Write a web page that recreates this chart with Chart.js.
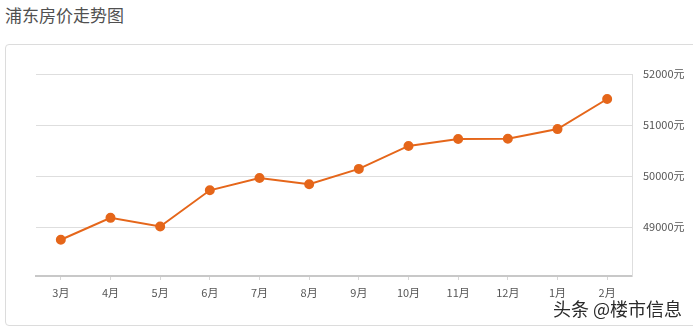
<!DOCTYPE html>
<html>
<head>
    <title>浦东房价走势图</title>
    <script src="https://cdn.jsdelivr.net/npm/chart.js@4.4.0/dist/chart.umd.min.js"></script>
    <style>
        body {
            margin: 0;
            width: 693px;
            height: 329px;
            overflow: hidden;
            background: #fff;
            font-family: "Noto Sans CJK SC", "Noto Sans", sans-serif;
            position: relative;
        }
        #title {
            position: absolute;
            left: 5px;
            top: 2px;
            font-size: 17px;
            color: #505050;
        }
        #box {
            position: absolute;
            left: 5px;
            top: 44px;
            width: 692px;
            height: 280px;
            border: 1px solid #dcdcdc;
            border-radius: 4px;
        }
        #chart {
            position: absolute;
            left: 0;
            top: 0;
        }
        #mark {
            position: absolute;
            left: 553px;
            top: 295px;
            font-size: 18px;
            color: #2a2a2a;
            text-shadow: 0 0 2px #fff;
        }
    </style>
</head>
<body>
    <div id="title">浦东房价走势图</div>
    <div id="box"></div>
    <canvas id="chart" width="693" height="329"></canvas>
    <div id="mark">头条 @楼市信息</div>
<script>
    const months = ['3月', '4月', '5月', '6月', '7月', '8月', '9月', '10月', '11月', '12月', '1月', '2月'];
    const prices = [48750, 49180, 49010, 49720, 49960, 49840, 50140, 50590, 50725, 50730, 50920, 51510];
    const yTicks = [49000, 50000, 51000, 52000];
    const lineColor = '#e5661a';

    const ctx = document.getElementById('chart');
    const chart = new Chart(ctx, {
        type: 'line',
        data: {
            labels: months,
            datasets: [{
                data: prices,
                borderColor: lineColor,
                backgroundColor: lineColor,
                borderWidth: 2,
                pointRadius: 4,
                pointHoverRadius: 4,
                tension: 0
            }]
        },
        options: {
            responsive: false,
            animation: false,
            layout: {
                padding: { left: 36, top: 74, right: 0, bottom: 0 }
            },
            plugins: {
                legend: { display: false },
                tooltip: { enabled: false }
            },
            scales: {
                x: {
                    offset: true,
                    grid: {
                        drawOnChartArea: false,
                        drawTicks: true,
                        tickLength: 4,
                        color: '#d6d6d6'
                    },
                    border: { color: '#c8c8c8', width: 2 },
                    ticks: {
                        color: '#555',
                        font: { size: 11, family: '"Noto Sans CJK SC", sans-serif' },
                        padding: 6,
                        maxRotation: 0
                    },
                    afterFit: (axis) => { axis.height = 53; }
                },
                y: {
                    position: 'right',
                    min: 48040,
                    max: 52000,
                    afterBuildTicks: (axis) => {
                        axis.ticks = yTicks.map(v => ({ value: v }));
                    },
                    grid: {
                        color: '#dedede',
                        drawTicks: false
                    },
                    border: { color: '#dedede', width: 1 },
                    ticks: {
                        color: '#555',
                        font: { size: 11, family: '"Noto Sans CJK SC", sans-serif' },
                        padding: 11,
                        callback: (v) => v + '元'
                    },
                    afterFit: (axis) => { axis.width = 61; }
                }
            }
        }
    });
</script>
</body>
</html>
